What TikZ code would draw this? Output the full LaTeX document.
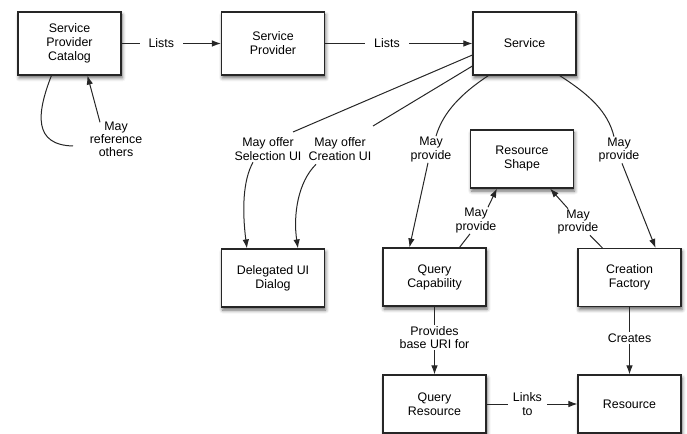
\documentclass[tikz,border=0pt]{standalone}
\usepackage{fontspec}
\setmainfont{Liberation Sans}
\usetikzlibrary{arrows.meta,calc,shadows.blur}
\begin{document}
\begin{tikzpicture}[x=1bp,y=-1bp,
  box/.style={draw=black!85, line width=1.1bp, fill=white, minimum width=103bp, minimum height=58bp, align=center, text=black, font=\fontsize{12.4bp}{14bp}\selectfont, inner sep=1bp, blur shadow={shadow xshift=1.2bp, shadow yshift=-3bp, shadow blur radius=3.5bp, shadow opacity=60}},
  tall/.style={minimum height=63bp},
  lab/.style={align=center, text=black, font=\fontsize{12.4bp}{13.2bp}\selectfont, inner sep=1bp},
  elab/.style={lab, fill=white, inner xsep=6bp},
  conn/.style={draw=black!85, line width=1bp},
  arr/.style={conn, -{Latex[length=9bp,width=6.5bp]}},
]
\useasboundingbox (0,0) rectangle (687,434);
% boxes
\node[box,tall] (spc) at (69.5,43.5) {Service\\Provider\\Catalog};
\node[box,tall] (sp)  at (273,43.5) {Service\\Provider};
\node[box,tall] (svc) at (524.5,43.5) {Service};
\node[box] (rs)  at (522,159) {Resource\\Shape};
\node[box] (dui) at (273,278) {Delegated UI\\Dialog};
\node[box] (qc)  at (434.5,277) {Query\\Capability};
\node[box] (cf)  at (629.5,277.5) {Creation\\Factory};
\node[box] (qr)  at (434.5,404) {Query\\Resource};
\node[box] (res) at (629.5,404) {Resource};
% labels
\node[lab] (ref) at (116,139) {May\\reference\\others};
\node[lab] (sel) at (268,149) {May offer\\Selection UI};
\node[lab] (cre) at (340,149) {May offer\\Creation UI};
\node[lab] (mp1) at (431,149.5) {May\\provide};
\node[lab] (mp2) at (619,150) {May\\provide};
\node[lab] (mp3) at (476,220.5) {May\\provide};
\node[lab] (mp4) at (578,222) {May\\provide};
\node[lab] (pb)  at (434.5,337.5) {Provides\\base URI for};
\node[lab] (crt) at (629.5,338) {Creates};
% straight edges
\draw[arr] (spc) -- node[elab,pos=0.4,inner xsep=9bp]{Lists} (sp);
\draw[arr] (sp) -- node[elab,pos=0.42,inner xsep=9bp]{Lists} (svc);
\draw[arr] (qr) -- node[elab,pos=0.45,inner xsep=5bp]{Links\\to} (res);
\draw[conn] (qc.south) -- (pb.north);
\draw[arr] (pb.south) -- (qr.north);
\draw[conn] (cf.south) -- (crt.north);
\draw[arr] (crt.south) -- (res.north);
% self reference
\coordinate (refend) at (73,146);
\draw[conn] ($(spc.south west)+(34,0)$) .. controls (36,115) and (34,145) .. (refend);
\draw[arr] ($(ref.north)+(-16,2)$) -- ($(spc.south west)+(70,0)$);
% service to delegated UI
\coordinate (selin) at (293,132);
\coordinate (crein) at (373,126);
\draw[conn] ($(svc.west)+(0,11.5)$) -- (selin);
\draw[conn] ($(svc.west)+(0,22.5)$) -- (crein);
\draw[arr] ($(sel.south)+(-15,1)$) .. controls (243,180) and (242,210) .. ($(dui.north west)+(26,0)$);
\draw[arr] ($(cre.south)+(-24,3)$) .. controls (298,182) and (293,215) .. ($(dui.north west)+(77,0)$);
% service to query capability / creation factory
\draw[conn] ($(svc.south west)+(16,0)$) .. controls (462,93) and (443,112) .. ($(mp1.north)+(5,0)$);
\draw[arr] ($(mp1.south)+(-3,0)$) -- ($(qc.north west)+(27,0)$);
\draw[conn] ($(svc.south east)+(-17,0)$) .. controls (590,95) and (608,112) .. ($(mp2.north)+(-5,0)$);
\draw[arr] ($(mp2.south)+(3,0)$) -- ($(cf.north east)+(-26,0)$);
% to resource shape
\draw[conn] ($(qc.north west)+(77,0)$) -- ($(mp3.south)+(-6,0)$);
\draw[arr] ($(mp3.north)+(12,0)$) -- ($(rs.south west)+(27,0)$);
\draw[conn] ($(cf.north west)+(25,0)$) -- ($(mp4.south)+(12,0)$);
\draw[arr] ($(mp4.north)+(-10,0)$) -- ($(rs.south east)+(-24,0)$);
\end{tikzpicture}
\end{document}
